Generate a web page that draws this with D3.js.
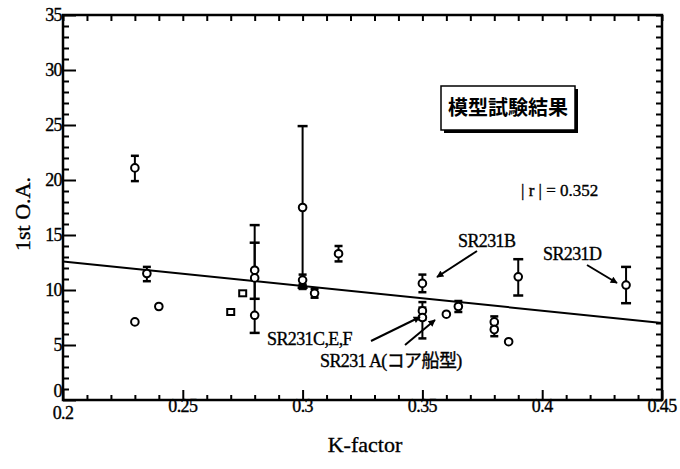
<!DOCTYPE html>
<html><head><meta charset="utf-8">
<script src="https://cdn.jsdelivr.net/npm/d3@7"></script>
<style>
html,body{margin:0;padding:0;background:#fff;}
svg{display:block;}
text{font-family:"Liberation Serif","Times New Roman",serif;fill:#000;stroke:#000;stroke-width:0.35px;}
</style></head>
<body>
<svg id="chart" width="680" height="469"></svg>
<script>
// ---- data ----
const kFactor = [0.23, 0.235, 0.24, 0.23, 0.27, 0.275, 0.28, 0.28, 0.28, 0.30, 0.30, 0.30, 0.305, 0.315, 0.35, 0.35, 0.35, 0.36, 0.365, 0.38, 0.38, 0.386, 0.39, 0.435];
const firstOA = [21.1, 11.5, 8.5, 7.1, 8.0, 9.7, 11.8, 11.1, 7.7, 17.5, 10.9, 10.3, 9.7, 13.3, 10.6, 8.1, 7.5, 7.8, 8.5, 7.1, 6.4, 5.3, 11.2, 10.45];
const errLow  = [19.9, 10.8, null, null, null, null, 9.2, 6.1, null, 10.2, 10.4, null, 9.3, 12.6, 9.8, 7.3, 5.6, null, 8.0, 6.6, 5.8, null, 9.5, 8.8];
const errHigh = [22.2, 12.1, null, null, null, null, 14.3, 15.9, null, 24.9, 11.4, null, 10.1, 14.0, 11.4, 8.9, 8.4, null, 9.0, 7.6, 6.9, null, 12.8, 12.1];
const markerShape = ["c","c","c","c","s","s","c","c","c","c","c","f","c","c","c","c","c","c","c","c","c","c","c","c"];
const fitK = [0.2, 0.45];
const fitOA = [12.6, 7.0];
const xTickValues = [0.2, 0.25, 0.3, 0.35, 0.4, 0.45];
const xTickLabels = ["0.2", "0.25", "0.3", "0.35", "0.4", "0.45"];
const yTickValues = [0, 5, 10, 15, 20, 25, 30, 35];
const yTickLabels = ["0", "5", "10", "15", "20", "25", "30", "35"];
const xTitle = "K-factor";
const yTitle = "1st O.A.";
const boxTitle = "模型試験結果";
const rText = "| r | = 0.352";

// ---- layout ----
const svg = d3.select("#chart");
const L = 63, R = 662, T = 15, B = 400;
const x = d3.scaleLinear().domain([0.2, 0.45]).range([L, R]);
const y = d3.scaleLinear().domain([0, 35]).range([B, T]);

const xMinor = d3.range(0, 26).map(i => 0.2 + i * 0.01);
const yMinor = d3.range(0, 36);

// bottom axis (ticks inward)
const gB = svg.append("g").attr("transform", `translate(0,${B})`)
  .call(d3.axisTop(x).tickValues(xMinor).tickSize(5).tickFormat(""));
gB.selectAll("g.tick").filter(d => xTickValues.some(v => Math.abs(v - d) < 1e-9)).select("line").attr("y2", -10);
// top axis
svg.append("g").attr("transform", `translate(0,${T})`)
  .call(d3.axisBottom(x).tickValues(xMinor).tickSize(6).tickFormat(""));
// left axis
const gL = svg.append("g").attr("transform", `translate(${L},0)`)
  .call(d3.axisRight(y).tickValues(yMinor).tickSize(6).tickFormat(""));
gL.selectAll("g.tick").filter(d => d % 5 === 0).select("line").attr("x2", 13);
// right axis
svg.append("g").attr("transform", `translate(${R},0)`)
  .call(d3.axisLeft(y).tickValues(yMinor).tickSize(6).tickFormat(""));
svg.selectAll(".domain").remove();
svg.selectAll(".tick line").attr("stroke", "#000").attr("stroke-width", 2);

// frame
svg.append("rect").attr("x", L).attr("y", T).attr("width", R - L).attr("height", B - T)
  .attr("fill", "none").attr("stroke", "#000").attr("stroke-width", 2.5);

// tick labels
svg.append("g").selectAll("text").data(xTickValues).join("text")
  .attr("x", d => x(d)).attr("y", (d, i) => i === 0 ? 419 : 412)
  .attr("text-anchor", "middle").attr("font-size", 18)
  .attr("letter-spacing", -0.6)
  .text((d, i) => xTickLabels[i]);
svg.append("g").selectAll("text").data(yTickValues).join("text")
  .attr("x", L - 1).attr("y", d => d === 0 ? y(d) - 3 : y(d) + 6)
  .attr("text-anchor", "end").attr("font-size", 18)
  .attr("letter-spacing", -0.6)
  .text((d, i) => yTickLabels[i]);

// axis titles
svg.append("text").attr("x", 365).attr("y", 452).attr("text-anchor", "middle")
  .attr("font-size", 22).text(xTitle);
svg.append("text").attr("transform", "translate(30,214) rotate(-90)")
  .attr("text-anchor", "middle").attr("font-size", 22).text(yTitle);

// regression line
svg.append("path").datum(fitK.map((k, i) => [k, fitOA[i]]))
  .attr("d", d3.line().x(d => x(d[0])).y(d => y(d[1])))
  .attr("stroke", "#000").attr("stroke-width", 2).attr("fill", "none");

// error bars
const pts = kFactor.map((k, i) => ({k, v: firstOA[i], lo: errLow[i], hi: errHigh[i], s: markerShape[i]}));
const eb = svg.append("g").attr("stroke", "#000").attr("stroke-width", 2);
pts.filter(p => p.lo !== null).forEach(p => {
  const cx = x(p.k), w = (p.hi - p.lo) > 3 ? 5 : 4;
  eb.append("line").attr("x1", cx).attr("x2", cx).attr("y1", y(p.lo)).attr("y2", y(p.hi));
  eb.append("line").attr("x1", cx - w).attr("x2", cx + w).attr("y1", y(p.lo)).attr("y2", y(p.lo)).attr("stroke-width", 2.5);
  eb.append("line").attr("x1", cx - w).attr("x2", cx + w).attr("y1", y(p.hi)).attr("y2", y(p.hi)).attr("stroke-width", 2.5);
});

// markers
const mk = svg.append("g");
pts.forEach(p => {
  const cx = x(p.k), cy = y(p.v);
  if (p.s === "c") {
    mk.append("circle").attr("cx", cx).attr("cy", cy).attr("r", 3.8)
      .attr("fill", "#fff").attr("stroke", "#000").attr("stroke-width", 2);
  } else if (p.s === "s") {
    mk.append("rect").attr("x", cx - 3.5).attr("y", cy - 3).attr("width", 7).attr("height", 6)
      .attr("fill", "#fff").attr("stroke", "#000").attr("stroke-width", 2);
  } else {
    mk.append("rect").attr("x", cx - 3.5).attr("y", cy - 3).attr("width", 7).attr("height", 6)
      .attr("fill", "#000").attr("stroke", "#000").attr("stroke-width", 1);
  }
});

// title box with shadow
const bx = 441, by = 86, bw = 134, bh = 44;
svg.append("rect").attr("x", bx + 3).attr("y", by + 3).attr("width", bw).attr("height", bh).attr("fill", "#000");
svg.append("rect").attr("x", bx).attr("y", by).attr("width", bw).attr("height", bh)
  .attr("fill", "#fff").attr("stroke", "#000").attr("stroke-width", 1.5);
svg.append("text").attr("x", bx + bw / 2).attr("y", by + 29).attr("text-anchor", "middle")
  .attr("font-weight", "bold").attr("font-size", 20)
  .style("font-family", "'Noto Sans CJK JP'").style("stroke-width", "0px").text(boxTitle);

// r text
svg.append("text").attr("x", 521).attr("y", 196).attr("font-size", 17).text(rText);

// annotations
const defs = svg.append("defs");
defs.append("marker").attr("id", "ah").attr("viewBox", "0 0 10 10").attr("refX", 9).attr("refY", 5)
  .attr("markerWidth", 9).attr("markerHeight", 7).attr("markerUnits", "userSpaceOnUse").attr("orient", "auto")
  .append("path").attr("d", "M0,0 L10,5 L0,10 z").attr("fill", "#000");

const annText = ["SR231B", "SR231D", "SR231C,E,F", "SR231 A(コア船型)"];
const annTX = [458, 543, 267, 320];
const annTY = [247, 260, 345, 367];
const arrowFrom = [[477, 251], [587, 265], [371, 341], [405, 345]];
const arrowTo = [[437, 277], [617, 283], [420, 317], [435, 320]];

annText.forEach((t, i) => {
  svg.append("text").attr("x", annTX[i]).attr("y", annTY[i]).attr("font-size", 18)
    .attr("letter-spacing", -0.6)
    .style("font-family", "'Liberation Serif','Noto Sans CJK JP',serif").text(t);
  svg.append("line").attr("x1", arrowFrom[i][0]).attr("y1", arrowFrom[i][1])
    .attr("x2", arrowTo[i][0]).attr("y2", arrowTo[i][1])
    .attr("stroke", "#000").attr("stroke-width", 2).attr("marker-end", "url(#ah)");
});
</script>
</body></html>
